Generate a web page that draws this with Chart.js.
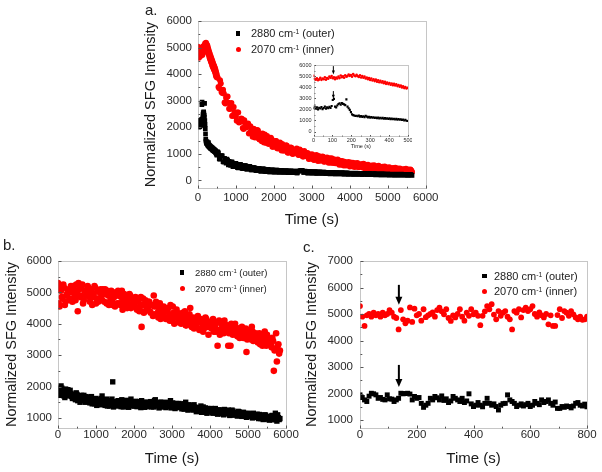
<!DOCTYPE html>
<html><head><meta charset="utf-8">
<script src="https://cdn.jsdelivr.net/npm/chart.js@4.4.1/dist/chart.umd.min.js"></script>
<style>
html,body{margin:0;padding:0;background:#fff;}
#wrap{position:relative;width:602px;height:472px;overflow:hidden;font-family:'Liberation Sans',Arial,sans-serif;color:#222;background:#fff;}
canvas{position:absolute;}
.txt{position:absolute;white-space:nowrap;color:#222;}
.txt sup{font-size:0.62em;vertical-align:0.5em;line-height:0;}
.mk{position:absolute;}
</style></head><body><div id="wrap">
<canvas id="ca" width="320" height="232" style="left:128px;top:0px"></canvas>
<canvas id="cb" width="306" height="236" style="left:0px;top:236px"></canvas>
<canvas id="cc" width="300" height="236" style="left:300px;top:236px"></canvas>
<canvas id="ci" width="122" height="92" style="left:290px;top:60px"></canvas>
</div>
<script>
// ---------- series names ----------
const seriesNames = ['2880 cm<sup>-1</sup> (outer)', '2070 cm<sup>-1</sup> (inner)'];
const panelLetters = ['a.', 'b.', 'c.'];
const xTitle = 'Time (s)';
const yTitle = 'Normalized SFG Intensity';

// ---------- panel a, first 500 s (also the inset), sampled every 6 s ----------
const aEarlyStart = 0, aEarlyStep = 6;
const aEarlyInner = [5030,4750,4680,4800,4620,4700,4850,4660,4780,4720,
 4900,4680,4820,4760,4950,4850,5000,4800,4900,4720,
 4880,4780,4950,4820,5050,4900,4980,4850,5080,4950,
 5000,5150,5020,5100,4950,5180,5050,4980,5120,5000,
 4920,5080,4880,5000,4850,4950,4780,4880,4720,4820,
 4650,4780,4600,4700,4550,4680,4500,4620,4450,4580,
 4420,4520,4350,4480,4300,4420,4280,4380,4220,4330,
 4180,4300,4150,4250,4100,4200,4050,4150,3980,4080,
 3920,4020,3880,3950];
const aEarlyOuter = [2100,2250,2050,2180,2000,2150,2080,2200,2020,2120,
 2250,2060,2180,2100,2220,2140,2300,2850,2950,2250,
 2180,2350,2480,2550,2420,2580,2500,2450,2380,2900,
 2250,2100,1950,1750,1550,1480,1450,1400,1420,1380,
 1450,1350,1400,1320,1380,1300,1420,1350,1280,1330,
 1260,1310,1240,1290,1220,1270,1200,1260,1190,1240,
 1180,1230,1160,1210,1150,1200,1130,1190,1120,1170,
 1110,1160,1090,1140,1080,1130,1060,1110,1040,1090,
 1000,1060,980,950];

// ---------- panel a, 520 s onwards: samples at 520+40k and 540+40k ----------
const aLateStep = 40;
const aLateStartA = 520, aLateStartB = 540;
const aLateInnerA = [3860,3470,3650,3290,3270,2890,3150,2920,2690,2910,
 2440,2570,2390,2550,2180,2220,2310,1930,2150,2010,
 2140,1780,1900,1640,1920,1720,1900,1580,1740,1470,
 1620,1730,1410,1580,1450,1600,1260,1420,1480,1220,
 1310,1420,1120,1290,1170,1320,1050,1170,1240,1010,
 1140,1050,1200,960,1160,1080,900,1100,930,1030,
 800,930,980,780,870,950,730,870,780,900,
 700,810,860,660,760,830,650,770,670,780,
 585,680,730,560,670,600,695,520,630,660,
 505,585,650,490,595,525,620,450,545,585,
 440,535,480,570,415,490,545,410,495,435,
 520,380,460,495,365,450,400,475,345,415,
 450,335,410,370,435,315,385,410,315];
const aLateInnerB = [3510,3770,3330,3410,2930,3110,3160,2700,2830,2420,
 2760,2510,2240,2550,2210,2330,1970,2260,1990,2080,
 1760,2040,1770,1940,1610,1785,1875,1535,1685,1765,
 1425,1585,1665,1365,1525,1550,1265,1385,1480,1195,
 1340,1235,1370,1110,1240,1300,1035,1150,1225,990,
 1140,1025,1165,955,1120,1040,895,1050,905,1015,
 810,925,955,770,875,795,915,735,825,875,
 705,805,735,835,665,755,795,640,725,662,
 738,585,665,700,560,638,587,670,535,603,
 640,512,585,538,610,487,550,583,465,532,
 488,557,448,505,532,428,492,453,510,402,
 463,487,393,445,407,463,367,423,442,358,
 407,373,422,338,387,408,322,373];
const aLateOuterA = [1070,810,920,920,680,760,800,580,680,700,
 510,605,640,480,545,600,450,530,555,425,
 495,530,395,470,480,370,430,455,350,410,
 435,335,395,410,320,375,397,310,362,385,
 307,360,377,300,347,370,292,345,357,290,
 333,351,284,332,355,365,360,298,340,275,
 323,331,270,313,326,264,307,320,258,296,
 314,252,295,303,246,284,302,245,283,296,
 239,272,290,233,271,279,227,260,274,223,
 256,270,219,252,266,215,248,262,211,245,
 259,210,241,252,207,236,249,204,233,246,
 201,230,242,199,226,239,196,223,234,193,
 220,231,190,217,228,187,214,225,186];
const aLateOuterB = [1040,800,930,700,830,650,760,720,560,690,
 510,630,600,470,590,560,440,560,545,420,
 520,500,390,480,460,360,450,440,340,430,
 420,330,410,395,320,400,385,305,385,372,
 300,375,365,295,362,355,288,352,348,285,
 345,342,280,350,365,372,300,345,335,272,
 330,325,268,322,318,262,315,312,258,308,
 305,252,300,298,248,294,290,242,288,284,
 240,282,278,236,276,272,230,268,265,226,
 262,259,224,256,254,220,252,250,218,247,
 246,212,243,241,209,238,236,206,234,232,
 204,230,228,201,226,224,198,222,220,195,
 219,217,193,215,213,190,211,207];

// ---------- panel b: samples at 0+40k and 20+40k ----------
const bStep = 40, bStartA = 0, bStartB = 20;
const bInnerA = [5300,4550,5050,4800,5150,4700,4950,5100,4750,5000,
 5200,4850,5250,4400,5100,4900,5250,4750,5050,4950,
 5150,4700,5000,4850,5200,4650,5050,4800,5100,4750,
 4950,5100,4650,4900,4700,5050,4600,4850,4950,4650,
 4900,4600,5050,4750,4550,4850,4650,4950,4500,4800,
 4600,4850,4450,4750,4550,3900,4800,4400,4650,4500,
 4700,4350,4600,4900,4300,4550,4200,4650,4450,4300,
 4500,4150,4450,4250,4600,4100,4350,4200,4450,4050,
 4300,4000,4350,4150,3950,4250,4050,4500,3900,4200,
 4100,3900,4250,3800,4150,4000,3850,4200,3950,3650,
 4050,3850,4150,3900,3750,3300,4100,3800,3950,3700,
 3950,3750,3300,3850,4000,3650,3900,3700,3600,3850,
 3700,3900,3550,3750,3100,3800,3600,3500,3750,3550,
 3700,3450,3650,3350,3550,3400,3750,3300,3500,3400,
 3350,3550,2500,3200,2800,3350,3150];
const bInnerB = [4650,5150,4850,5250,4600,4900,5050,4800,5200,4700,
 5100,4750,5000,5300,4850,5150,4650,5050,4900,5200,
 4850,5100,4600,4950,5150,4800,4700,5000,4850,5100,
 4700,4950,5050,4600,4850,4750,5000,4550,4900,5050,
 4650,4850,4450,4950,4700,4500,4800,4900,4600,4750,
 4800,4500,4700,4400,4850,4600,4350,4750,4550,4700,
 4400,4600,4250,4550,4700,4350,4500,4150,4400,4550,
 4200,4400,4500,4100,4300,4550,4000,4250,4350,4150,
 4200,4050,4250,4400,3950,4100,4300,4000,4150,3850,
 3950,4200,4050,3850,4100,3750,4000,4150,3900,4050,
 3900,4100,3750,3950,4050,3800,3650,4000,3850,4100,
 3800,3950,3700,3300,3900,3750,4000,3650,3850,3550,
 3650,3800,3600,3850,3500,3700,3650,3900,3450,3600,
 3550,3400,3700,3500,3300,3600,3450,3650,3350,3500,
 3250,3450,3150,3700,3300,3050];
const bOuterA = [1950,1780,2020,1850,1700,1920,1800,1750,1880,1680,
 1750,1620,1800,1550,1700,1650,1580,1720,1500,1650,
 1600,1480,1680,1550,1450,1620,1500,1580,1420,1700,
 1520,1400,1600,1480,1380,1550,2150,1450,1520,1380,
 1500,1420,1580,1350,1480,1550,1400,1460,1600,1380,
 1450,1530,1360,1480,1400,1550,1420,1340,1500,1440,
 1380,1520,1460,1350,1580,1420,1480,1360,1500,1400,
 1450,1330,1480,1400,1550,1350,1420,1300,1460,1380,
 1330,1450,1380,1280,1500,1350,1420,1300,1380,1250,
 1350,1200,1300,1250,1380,1180,1280,1320,1150,1260,
 1220,1300,1150,1280,1200,1120,1260,1180,1230,1100,
 1200,1150,1250,1080,1180,1220,1100,1170,1060,1200,
 1130,1050,1180,1100,1020,1150,1080,1120,1000,1090,
 1060,1120,980,1080,1030,950,1100,1000,1050,930,
 1020,1080,960,1150,900,1010,980];
const bOuterB = [1880,1720,1950,1800,1650,1850,1900,1700,1780,1620,
 1700,1580,1750,1650,1500,1720,1600,1550,1680,1520,
 1560,1650,1450,1600,1520,1400,1580,1480,1620,1500,
 1450,1560,1380,1500,1420,1600,1350,1480,1400,1550,
 1430,1360,1520,1450,1400,1560,1340,1480,1420,1500,
 1380,1480,1420,1520,1330,1450,1390,1500,1360,1460,
 1470,1350,1430,1550,1380,1450,1320,1500,1420,1350,
 1400,1500,1360,1430,1320,1480,1380,1420,1340,1460,
 1400,1290,1360,1450,1320,1250,1400,1350,1280,1420,
 1280,1330,1220,1300,1180,1350,1240,1200,1300,1190,
 1260,1170,1240,1300,1150,1210,1250,1130,1200,1270,
 1150,1220,1120,1190,1250,1090,1160,1130,1210,1080,
 1120,1170,1060,1140,1090,1040,1130,1070,1150,1020,
 1090,1040,1110,980,1060,1010,1090,960,1040,1000,
 1060,940,1030,990,1100,950];

// ---------- panel c, sampled every 8 s ----------
const cStart = 0, cStep = 8;
const cInner = [5300,4900,4550,4950,5000,4900,5050,4950,5000,4900,
 5050,4950,5000,5150,5050,4900,4850,4420,5150,4800,
 4650,4750,5250,4700,5200,4950,5000,4750,5180,4880,
 4950,5000,5060,4900,5150,5240,5100,4990,5180,4850,
 4740,4950,4870,5000,5180,4900,4750,5050,4930,5180,
 4990,5050,4930,4580,4930,5100,5300,5180,5370,4980,
 4800,5110,4930,5050,5110,4900,4800,4420,5110,5050,
 5180,4870,5150,5240,5110,5180,5300,5000,4900,5060,
 4950,4870,5000,4610,4950,4550,4550,4960,5180,4850,
 5110,5050,4930,5110,4990,4870,4800,4900,4780,4800,
 4900];
const cOuter = [1950,1850,1760,1700,1900,2010,1990,1950,1820,1850,
 1780,1760,1950,1800,1790,1700,1760,1820,2010,1990,
 2000,2010,1980,1760,1890,1820,1850,1630,1480,1560,
 1630,1820,1760,1890,1840,1760,1910,1740,1800,1660,
 1720,1890,1820,1760,1700,1820,1660,1720,1990,1610,
 1510,1560,1660,1560,1500,1630,1820,1630,1560,1610,
 1510,1380,1560,1620,1630,1950,1760,1700,1630,1510,
 1560,1610,1530,1580,1630,1510,1560,1700,1630,1580,
 1760,1660,1700,1760,1630,1560,1680,1440,1440,1510,
 1480,1530,1510,1460,1530,1630,1660,1560,1530,1600,
 1500];

// ---------- arrows (time, from, to) ----------
const insetArrows = [{t:105, from:5900, to:5150}, {t:105, from:3650, to:2950}];
const cArrows = [{t:137, from:6100, to:5350}, {t:137, from:3080, to:2250}];

// ---------- tick labels ----------
const aXTicks = [0,1000,2000,3000,4000,5000,6000];
const aYTicks = [0,1000,2000,3000,4000,5000,6000];
const iXTicks = [0,100,200,300,400,500];
const iYTicks = [0,1000,2000,3000,4000,5000,6000];
const bXTicks = [0,1000,2000,3000,4000,5000,6000];
const bYTicks = [1000,2000,3000,4000,5000,6000];
const cXTicks = [0,200,400,600,800];
const cYTicks = [1000,2000,3000,4000,5000,6000,7000];

const FAM = "'Liberation Sans', Arial, sans-serif";
Chart.defaults.font.family = FAM;

function pts(vals, start, step) { return vals.map((v, i) => ({x: start + i * step, y: v})); }

function makeScales(c) {
  return {
    x: {
      type: 'linear', position: 'bottom', min: c.xMin, max: c.xMax,
      afterBuildTicks: s => { s.ticks = c.xTicks.map(v => ({value: v})); },
      afterFit: s => { s.height = c.xH; s.paddingLeft = 0; s.paddingRight = 0; },
      grid: {display: false, drawTicks: false}, border: {display: false},
      ticks: {padding: c.xPad, color: '#2a2a2a', font: {family: FAM, size: c.tick}, maxRotation: 0, minRotation: 0, autoSkip: false, callback: v => String(v)},
      title: {display: true, text: xTitle, color: '#1a1a1a', font: {family: FAM, size: c.xTS}, padding: {top: 0, bottom: c.xTP}}
    },
    y: {
      type: 'linear', position: 'left', min: c.yMin, max: c.yMax,
      afterBuildTicks: s => { s.ticks = c.yTicks.map(v => ({value: v})); },
      afterFit: s => { s.width = c.yW; s.paddingTop = 0; s.paddingBottom = 0; },
      grid: {display: false, drawTicks: false}, border: {display: false},
      ticks: {padding: c.yPad, color: '#2a2a2a', font: {family: FAM, size: c.tick}, autoSkip: false, callback: v => String(v)},
      title: {display: !!c.yTS, text: yTitle, color: '#1a1a1a', font: {family: FAM, size: c.yTS || 10}, padding: {top: c.yTP || 0, bottom: 0}}
    }
  };
}

const decor = {
  id: 'decor',
  afterDraw(chart, args, o) {
    const {ctx, chartArea: a, scales: {x, y}} = chart;
    ctx.save();
    ctx.strokeStyle = '#8c8c8c';
    ctx.lineWidth = 1;
    ctx.setLineDash([1, 1]);
    const L = Math.round(a.left) + 0.5, T = Math.round(a.top) + 0.5, R = Math.round(a.right) + 0.5, B = Math.round(a.bottom) + 0.5;
    ctx.strokeRect(L, T, R - L, B - T);
    ctx.setLineDash([]);
    ctx.strokeStyle = '#555';
    const tl = o.tick || 3;
    ctx.beginPath();
    const xs = x.ticks.map(t => t.value), ys = y.ticks.map(t => t.value);
    xs.forEach((v, i) => {
      const p = Math.round(x.getPixelForValue(v)) + 0.5;
      ctx.moveTo(p, B); ctx.lineTo(p, B - tl);
      if (i < xs.length - 1) { const m = Math.round(x.getPixelForValue((v + xs[i + 1]) / 2)) + 0.5; ctx.moveTo(m, B); ctx.lineTo(m, B - tl * 0.6); }
    });
    ys.forEach((v, i) => {
      const p = Math.round(y.getPixelForValue(v)) + 0.5;
      ctx.moveTo(L, p); ctx.lineTo(L + tl, p);
      if (i < ys.length - 1) { const m = Math.round(y.getPixelForValue((v + ys[i + 1]) / 2)) + 0.5; ctx.moveTo(L, m); ctx.lineTo(L + tl * 0.6, m); }
    });
    ctx.stroke();
    (o.arrows || []).forEach(ar => {
      const px = x.getPixelForValue(ar.t), y0 = y.getPixelForValue(ar.from), y1 = y.getPixelForValue(ar.to);
      ctx.fillStyle = '#000'; ctx.strokeStyle = '#000'; ctx.lineWidth = o.aw;
      ctx.beginPath(); ctx.moveTo(px, y0); ctx.lineTo(px, y1 - o.hl + 1); ctx.stroke();
      ctx.beginPath(); ctx.moveTo(px - o.hw / 2, y1 - o.hl); ctx.lineTo(px + o.hw / 2, y1 - o.hl); ctx.lineTo(px, y1); ctx.closePath(); ctx.fill();
    });
    ctx.restore();
  }
};

function ds(label, data, color, style, r) {
  return {label, data, pointStyle: style, pointRadius: r, pointHoverRadius: r, pointBackgroundColor: color, pointBorderWidth: 0, backgroundColor: color, borderColor: color, showLine: false};
}

function make(id, datasets, scales, pad, deco) {
  return new Chart(document.getElementById(id), {
    type: 'scatter',
    data: {datasets},
    options: {
      responsive: false, animation: false, devicePixelRatio: 1,
      layout: {padding: pad},
      plugins: {legend: {display: false}, tooltip: {enabled: false}, decor: deco},
      scales
    },
    plugins: [decor]
  });
}

const aOuterPts = pts(aEarlyOuter, aEarlyStart, aEarlyStep).concat(pts(aLateOuterA, aLateStartA, aLateStep), pts(aLateOuterB, aLateStartB, aLateStep));
const aInnerPts = pts(aEarlyInner, aEarlyStart, aEarlyStep).concat(pts(aLateInnerA, aLateStartA, aLateStep), pts(aLateInnerB, aLateStartB, aLateStep));
const bOuterPts = pts(bOuterA, bStartA, bStep).concat(pts(bOuterB, bStartB, bStep));
const bInnerPts = pts(bInnerA, bStartA, bStep).concat(pts(bInnerB, bStartB, bStep));

make('ca', [ds(seriesNames[0], aOuterPts, '#000', 'rect', 3.3), ds(seriesNames[1], aInnerPts, '#ff0000', 'circle', 3.0)],
  makeScales({xMin: 0, xMax: 6000, xTicks: aXTicks, xH: 43.7, xPad: 3, tick: 11.5, xTS: 15, xTP: 3,
              yMin: -300, yMax: 6000, yTicks: aYTicks, yW: 70, yPad: 6, yTS: 14.5, yTP: 14}),
  {left: 0, top: 21, right: 22.3, bottom: 0}, {tick: 3});

make('cb', [ds(seriesNames[0], bOuterPts, '#000', 'rect', 3.8), ds(seriesNames[1], bInnerPts, '#ff0000', 'circle', 3.3)],
  makeScales({xMin: 0, xMax: 6000, xTicks: bXTicks, xH: 44, xPad: 0, tick: 11.5, xTS: 15, xTP: 3.7,
              yMin: 680, yMax: 6000, yTicks: bYTicks, yW: 58, yPad: 6, yTS: 14.5, yTP: 3}),
  {left: 0, top: 25, right: 20, bottom: 0}, {tick: 3});

make('cc', [ds(seriesNames[0], pts(cOuter, cStart, cStep), '#000', 'rect', 3.5), ds(seriesNames[1], pts(cInner, cStart, cStep), '#ff0000', 'circle', 2.9)],
  makeScales({xMin: 0, xMax: 800, xTicks: cXTicks, xH: 44, xPad: 0, tick: 11.5, xTS: 15, xTP: 3.7,
              yMin: 700, yMax: 7000, yTicks: cYTicks, yW: 60, yPad: 7, yTS: 14.5, yTP: 3}),
  {left: 0, top: 25, right: 13, bottom: 0}, {tick: 3, arrows: cArrows, aw: 2, hw: 7, hl: 8});

make('ci', [ds(seriesNames[0], pts(aEarlyOuter, aEarlyStart, aEarlyStep), '#000', 'rect', 1.5), ds(seriesNames[1], pts(aEarlyInner, aEarlyStart, aEarlyStep), '#ff0000', 'circle', 1.3)],
  makeScales({xMin: 0, xMax: 500, xTicks: iXTicks, xH: 16, xPad: 1, tick: 5.5, xTS: 5.5, xTP: 2.7,
              yMin: -400, yMax: 6000, yTicks: iYTicks, yW: 23.5, yPad: 2, yTS: 0}),
  {left: 0, top: 5, right: 4, bottom: 0}, {tick: 1.5, arrows: insetArrows, aw: 1, hw: 3, hl: 4});

// ---------- legends and panel letters ----------
const wrap = document.getElementById('wrap');
function addText(html, left, top, size) {
  const d = document.createElement('div');
  d.className = 'txt'; d.innerHTML = html;
  d.style.left = left + 'px'; d.style.top = top + 'px';
  d.style.fontSize = size + 'px'; d.style.lineHeight = size + 'px';
  wrap.appendChild(d);
}
function addMarker(cx, cy, size, color, round) {
  const d = document.createElement('div');
  d.className = 'mk';
  d.style.left = (cx - size / 2) + 'px'; d.style.top = (cy - size / 2) + 'px';
  d.style.width = size + 'px'; d.style.height = size + 'px';
  d.style.background = color; if (round) d.style.borderRadius = '50%';
  wrap.appendChild(d);
}
const legendSpecs = [
  {mx: 238, rows: [33.5, 49.7], tx: 251, fs: 11},
  {mx: 182, rows: [272.7, 288.3], tx: 195, fs: 9.5},
  {mx: 484.7, rows: [276, 291], tx: 494, fs: 11}
];
legendSpecs.forEach(L => {
  addMarker(L.mx, L.rows[0], 4.6, '#000', false);
  addMarker(L.mx, L.rows[1], 5, '#ff0000', true);
  L.rows.forEach((ry, i) => addText(seriesNames[i], L.tx, ry - 0.4885 * L.fs, L.fs));
});
const letterPos = [[145, 15], [3, 250], [303, 252]];
letterPos.forEach((p, i) => addText(panelLetters[i], p[0], p[1] - 0.8465 * 15, 15));
</script></body></html>
